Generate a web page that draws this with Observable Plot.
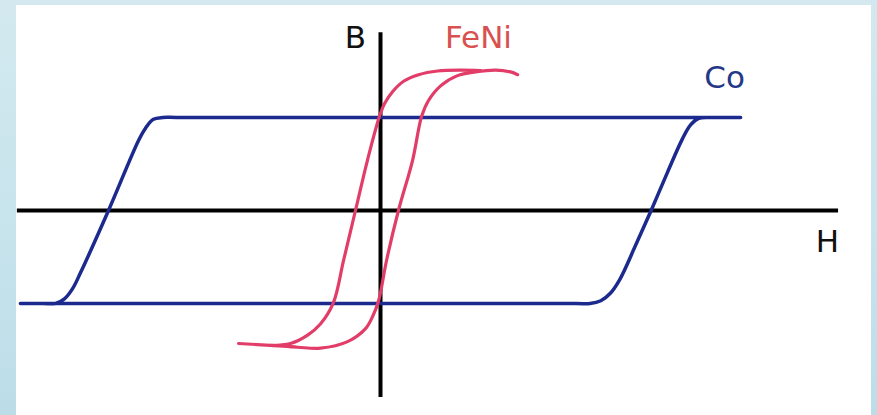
<!DOCTYPE html>
<html>
<head>
<meta charset="utf-8">
<script src="https://cdn.jsdelivr.net/npm/d3@7"></script>
<script src="https://cdn.jsdelivr.net/npm/@observablehq/plot@0.6"></script>
<style>
  html, body { margin: 0; padding: 0; }
  #page { position: relative; width: 877px; height: 415px; overflow: hidden;
          background: linear-gradient(180deg, #d3e9ef 0%, #c6e3ec 60%, #bcdde8 100%); }
  #chart { position: absolute; left: 16px; top: 5px; }
</style>
</head>
<body>
<div id="page"><div id="chart"></div></div>
<script>
// Co hysteresis loop (H, B in arbitrary units), traced as one closed loop
const coH = [-13.24, 7.2, 7.7, 8.1, 8.45, 8.8, 9.37, 9.95, 10.55, 11.1, 11.4, 11.7, 12.1, 12.6, 13.24,
             12.6, -7.5, -8.0, -8.35, -8.65, -8.9, -10.0, -11.03, -11.32, -11.62, -11.95, -12.4, -13.24];
const coB = [-1, -1, -1, -0.97, -0.89, -0.74, -0.38, 0, 0.41, 0.77, 0.92, 0.99, 1, 1, 1,
             1, 1, 1, 0.98, 0.88, 0.75, 0, -0.67, -0.84, -0.95, -1, -1, -1];

// FeNi loop: ascending branch (tail to tail) and descending branch
const feniUpH = [-5.22, -4.04, -3.05, -2.21, -1.21, -0.55, -0.29, -0.07, 0.22, 0.66, 1.18, 1.51, 1.76, 2.21, 2.83, 3.49, 4.23, 4.78, 5.04];
const feniUpB = [-1.43, -1.45, -1.47, -1.48, -1.41, -1.27, -1.14, -0.97, -0.54, 0, 0.54, 1.01, 1.18, 1.34, 1.45, 1.49, 1.51, 1.49, 1.46];
const feniDownH = [3.68, 2.94, 2.1, 1.4, 0.85, 0.45, 0.15, -0.04, -0.48, -0.92, -1.36, -1.73, -2.21, -2.68, -3.31, -4.04];
const feniDownB = [1.505, 1.51, 1.5, 1.46, 1.39, 1.28, 1.15, 1.01, 0.54, 0, -0.54, -0.99, -1.22, -1.34, -1.43, -1.45];

// Axis extents (data units)
const hAxisRange = [-13.35, 16.84];
const bAxisRange = [-2.01, 1.91];

// Labels
const labelText = ["B", "H", "FeNi", "Co"];
const labelH = [-0.92, 16.43, 3.6, 12.65];
const labelB = [1.85, -0.34, 1.85, 1.42];
const labelColor = ["#111111", "#111111", "#d9514f", "#233886"];

const co = coH.map((h, i) => ({H: h, B: coB[i]}));
const feniUp = feniUpH.map((h, i) => ({H: h, B: feniUpB[i]}));
const feniDown = feniDownH.map((h, i) => ({H: h, B: feniDownB[i]}));
const labels = labelText.map((t, i) => ({t, H: labelH[i], B: labelB[i], c: labelColor[i]}));

const chart = Plot.plot({
  width: 855,
  height: 410,
  marginLeft: 0, marginRight: 0, marginTop: 0, marginBottom: 0,
  x: {domain: [-13.382, 18.051], axis: null},
  y: {domain: [-2.204, 2.204], axis: null},
  style: {background: "white", overflow: "visible", fontFamily: "DejaVu Sans, sans-serif"},
  marks: [
    Plot.ruleY([0], {x1: hAxisRange[0], x2: hAxisRange[1], stroke: "#000", strokeWidth: 4}),
    Plot.ruleX([0], {y1: bAxisRange[0], y2: bAxisRange[1], stroke: "#000", strokeWidth: 4}),
    Plot.line(co, {x: "H", y: "B", stroke: "#1c2a8e", strokeWidth: 3.5, curve: "catmull-rom"}),
    Plot.line(feniUp, {x: "H", y: "B", stroke: "#e23d68", strokeWidth: 3.2, curve: "catmull-rom"}),
    Plot.line(feniDown, {x: "H", y: "B", stroke: "#e23d68", strokeWidth: 3.2, curve: "catmull-rom"}),
    Plot.text(labels, {x: "H", y: "B", text: "t", fill: "c", fontSize: 31, textAnchor: "middle"})
  ]
});
document.getElementById("chart").appendChild(chart);
</script>
</body>
</html>
